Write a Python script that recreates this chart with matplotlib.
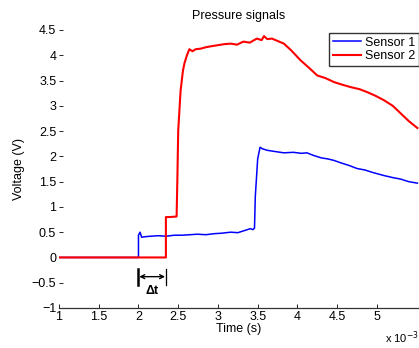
import matplotlib
matplotlib.use('Agg')
import matplotlib.pyplot as plt

plt.rcParams['font.family'] = ['Liberation Sans', 'DejaVu Sans']

# time axis in units of 1e-3 s
t_s1 = [1.0, 2.0, 2.0, 2.02, 2.04, 2.08, 2.15, 2.25, 2.35, 2.45, 2.55, 2.65, 2.74, 2.85,
        2.95, 3.05, 3.16, 3.25, 3.33, 3.41, 3.44, 3.46, 3.47, 3.50, 3.53, 3.56, 3.62,
        3.70, 3.83, 3.95, 4.05, 4.12, 4.20, 4.30, 4.38, 4.46, 4.55, 4.65, 4.75, 4.85,
        4.95, 5.09, 5.20, 5.30, 5.40, 5.51]
v_s1 = [0.0, 0.0, 0.44, 0.50, 0.40, 0.41, 0.42, 0.43, 0.42, 0.44, 0.44, 0.45, 0.46, 0.45,
        0.47, 0.48, 0.50, 0.49, 0.53, 0.57, 0.55, 0.58, 1.20, 1.95, 2.18, 2.15, 2.12,
        2.10, 2.07, 2.08, 2.06, 2.07, 2.02, 1.97, 1.95, 1.92, 1.87, 1.82, 1.76, 1.73,
        1.68, 1.62, 1.58, 1.55, 1.50, 1.47]

t_s2 = [1.0, 2.345, 2.345, 2.40, 2.48, 2.49, 2.50, 2.53, 2.56, 2.58, 2.61, 2.64, 2.68,
        2.72, 2.78, 2.85, 2.92, 3.00, 3.08, 3.16, 3.24, 3.32, 3.40, 3.49, 3.55, 3.58,
        3.62, 3.68, 3.74, 3.83, 3.92, 4.04, 4.14, 4.25, 4.35, 4.46, 4.56, 4.67, 4.78,
        4.88, 4.98, 5.09, 5.20, 5.30, 5.40, 5.51]
v_s2 = [0.0, 0.0, 0.80, 0.80, 0.81, 1.60, 2.50, 3.30, 3.70, 3.85, 4.00, 4.12, 4.08,
        4.12, 4.13, 4.16, 4.18, 4.20, 4.22, 4.23, 4.21, 4.27, 4.25, 4.33, 4.30, 4.38,
        4.32, 4.33, 4.29, 4.23, 4.10, 3.90, 3.76, 3.60, 3.55, 3.47, 3.42, 3.37, 3.33,
        3.27, 3.20, 3.11, 3.00, 2.85, 2.70, 2.56]

x_ticks = [1, 1.5, 2, 2.5, 3, 3.5, 4, 4.5, 5]
y_ticks = [-1, -0.5, 0, 0.5, 1, 1.5, 2, 2.5, 3, 3.5, 4, 4.5]

t_first, t_second = 2.0, 2.345

fig = plt.figure(figsize=(4.19, 3.48), dpi=100)
ax = fig.add_axes([59 / 419, 40 / 348, 360 / 419, 278 / 348])

ax.plot(t_s1, v_s1, color='#0000ff', lw=1.1, label='Sensor 1')
ax.plot(t_s2, v_s2, color='#ff0000', lw=1.5, label='Sensor 2')

ax.set_xlim(1, 5.53)
ax.set_ylim(-1, 4.5)
ax.set_xticks(x_ticks)
ax.set_xticklabels([f'{v:g}' for v in x_ticks])
ax.set_yticks(y_ticks)
ax.set_yticklabels([f'{v:g}'.replace('-', '\u2212') for v in y_ticks])
ax.tick_params(direction='in', length=3, labelsize=9, width=0.6, pad=2)

for side in ['top', 'right', 'left']:
    ax.spines[side].set_visible(False)
ax.spines['bottom'].set_linewidth(0.9)
ax.spines['bottom'].set_color('#333333')

ax.set_title('Pressure signals', fontsize=9, pad=8)
ax.set_xlabel('Time (s)', fontsize=9, labelpad=0)
ax.set_ylabel('Voltage (V)', fontsize=9, labelpad=5)
ax.text(1.0, -0.108, 'x 10$^{-3}$', transform=ax.transAxes, ha='right', va='center', fontsize=8)

# delta t marker
ax.plot([t_first, t_first], [-0.22, -0.55], color='black', lw=1.8)
ax.plot([t_second, t_second], [-0.22, -0.55], color='black', lw=0.9)
ax.annotate('', xy=(t_first + 0.01, -0.38), xytext=(t_second - 0.01, -0.38),
            arrowprops=dict(arrowstyle='<->', color='black', lw=1.0,
                            shrinkA=0, shrinkB=0, mutation_scale=7))
ax.text((t_first + t_second) / 2, -0.55, '\u0394t', ha='center', va='top',
        fontsize=9, fontweight='bold')

leg = ax.legend(loc='upper right', bbox_to_anchor=(1.0, 0.99), fontsize=9,
                frameon=True, fancybox=False, handlelength=2.3, handletextpad=0.3,
                borderpad=0.3, labelspacing=0.15, borderaxespad=0)
leg.get_frame().set_edgecolor('black')
leg.get_frame().set_linewidth(1.0)

fig.savefig('out.png', dpi=100)
